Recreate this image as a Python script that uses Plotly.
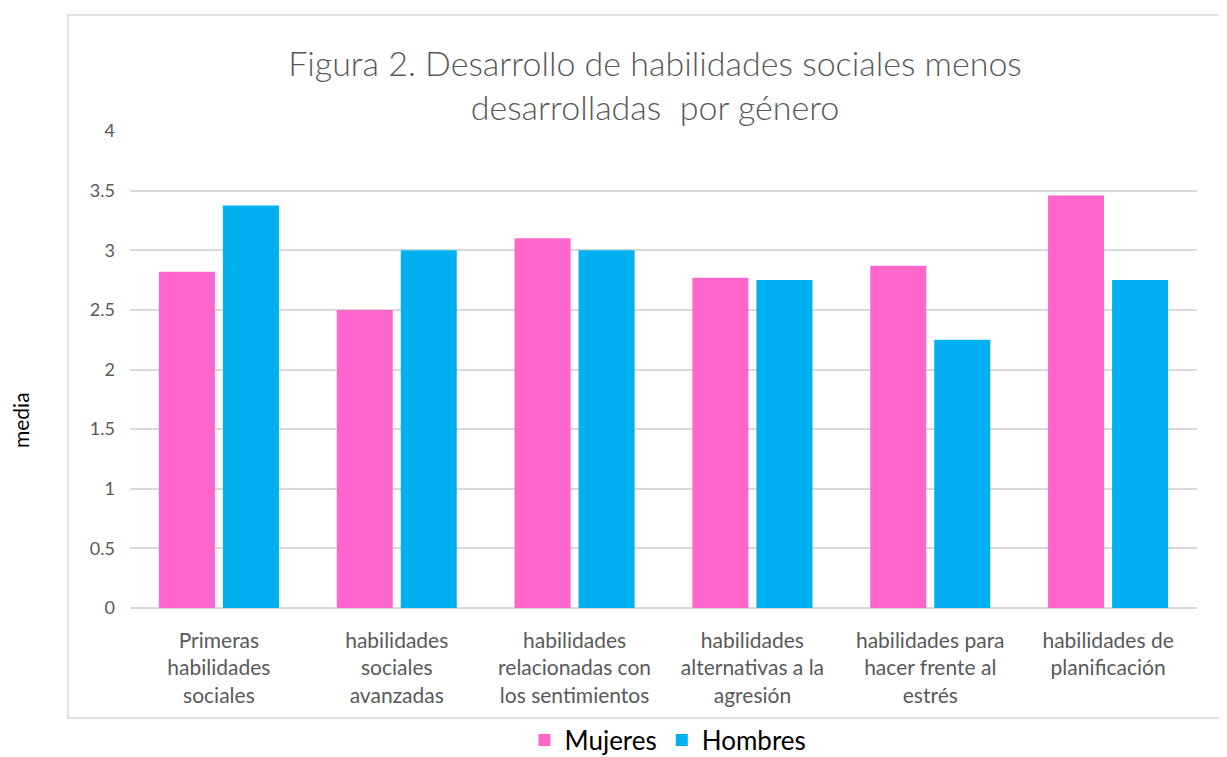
import plotly.graph_objects as go

# datos
categorias = [
    "Primeras<br>habilidades<br>sociales",
    "habilidades<br>sociales<br>avanzadas",
    "habilidades<br>relacionadas con<br>los sentimientos",
    "habilidades<br>alternativas a la<br>agresión",
    "habilidades para<br>hacer frente al<br>estrés",
    "habilidades de<br>planificación",
]
mujeres = [2.82, 2.5, 3.1, 2.77, 2.87, 3.46]
hombres = [3.375, 3.0, 3.0, 2.75, 2.25, 2.75]

FONT = "Lato"
GRIS = "#595959"

# la página tiene 8px de margen en el body
W, H = 1219, 749

fig = go.Figure()

fig.add_trace(go.Bar(
    x=categorias, y=mujeres, name="Mujeres",
    marker=dict(color="#ff66cc", line=dict(width=0))
))
fig.add_trace(go.Bar(
    x=categorias, y=hombres, name="Hombres",
    marker=dict(color="#00b0f0", line=dict(width=0))
))

# borde exterior del gráfico
fig.add_shape(
    type="rect", xref="paper", yref="paper",
    x0=-0.0581, x1=1.1, y0=-0.2306, y1=1.243,
    line=dict(color="#d9d9d9", width=1.5), layer="below"
)

# título del eje y
fig.add_annotation(
    text="media", textangle=-90, showarrow=False,
    xref="paper", yref="paper", x=(20 - 130) / 1067, y=(608 - 420) / 477,
    xanchor="center", yanchor="middle",
    font=dict(family=FONT, size=21, color="black")
)

fig.update_layout(
    width=W, height=H,
    margin=dict(l=122, r=30, t=123, b=149, autoexpand=False),
    paper_bgcolor="white", plot_bgcolor="white",
    barmode="group", bargap=0.28, bargroupgap=0.125,
    font=dict(family=FONT, color=GRIS),
    title=dict(
        text="Figura 2. Desarrollo de habilidades sociales menos<br>desarrolladas  por género",
        x=(655 - 8) / W, xanchor="center", y=1 - (76 - 8) / H, yanchor="middle",
        font=dict(family=FONT, size=34, color=GRIS, weight=300)
    ),
    legend=dict(
        orientation="h", x=(668 - 8) / W, xanchor="center", xref="container",
        y=(608 - 740) / 477, yanchor="middle", yref="paper",
        font=dict(family=FONT, size=26, color="black"),
        bgcolor="rgba(0,0,0,0)",
        itemsizing="constant"
    ),
    showlegend=True,
)

fig.update_yaxes(
    range=[0, 4], dtick=0.5, automargin=False,
    showgrid=True, gridcolor="#d9d9d9", gridwidth=1.5,
    zeroline=True, zerolinecolor="#d9d9d9", zerolinewidth=1.5,
    showline=False, ticks="", ticklabelstandoff=14,
    tickfont=dict(family=FONT, size=18, color=GRIS),
)
fig.update_xaxes(
    showline=False, ticks="", showgrid=False, automargin=False,
    tickfont=dict(family=FONT, size=21, color=GRIS),
    tickangle=0, ticklabelstandoff=18,
)

fig.write_html("out.html")
